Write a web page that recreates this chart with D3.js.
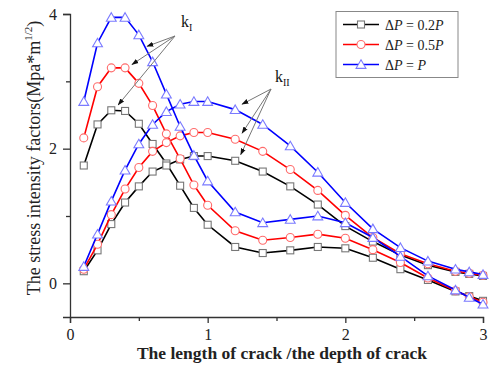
<!DOCTYPE html>
<html>
<head>
<meta charset="utf-8">
<script src="https://cdn.jsdelivr.net/npm/d3@7"></script>
<style>
  body { margin: 0; background: #fff; }
  svg { font-family: "Liberation Serif", "Times New Roman", serif; }
</style>
</head>
<body>
<div id="chart"></div>
<script>
// crack length / depth ratio
const xs = [0.1, 0.2, 0.3, 0.4, 0.5, 0.6, 0.7, 0.8, 0.9, 1.0, 1.2, 1.4, 1.6, 1.8, 2.0, 2.2, 2.4, 2.6, 2.8, 2.9, 3.0];

// kI curves
const kI_02 = [1.75, 2.36, 2.57, 2.56, 2.37, 2.07, 1.78, 1.45, 1.12, 0.87, 0.54, 0.45, 0.49, 0.54, 0.52, 0.38, 0.21, 0.05, -0.12, -0.19, -0.26];
const kI_05 = [2.16, 2.92, 3.20, 3.20, 2.97, 2.64, 2.22, 1.85, 1.46, 1.16, 0.78, 0.64, 0.68, 0.73, 0.67, 0.50, 0.31, 0.08, -0.11, -0.20, -0.28];
const kI_10 = [2.70, 3.57, 3.95, 3.95, 3.69, 3.29, 2.81, 2.33, 1.90, 1.52, 1.06, 0.90, 0.95, 1.00, 0.90, 0.68, 0.40, 0.11, -0.10, -0.21, -0.31];

// kII curves
const kII_02 = [0.18, 0.49, 0.88, 1.20, 1.44, 1.66, 1.75, 1.84, 1.89, 1.89, 1.82, 1.66, 1.44, 1.17, 0.85, 0.62, 0.42, 0.27, 0.17, 0.14, 0.11];
const kII_05 = [0.21, 0.58, 1.02, 1.40, 1.72, 1.96, 2.09, 2.19, 2.24, 2.24, 2.14, 1.96, 1.69, 1.38, 1.01, 0.68, 0.44, 0.29, 0.18, 0.15, 0.12];
const kII_10 = [0.25, 0.73, 1.22, 1.68, 2.07, 2.36, 2.55, 2.66, 2.70, 2.70, 2.58, 2.36, 2.04, 1.65, 1.20, 0.81, 0.53, 0.33, 0.21, 0.17, 0.13];

const xTicks = [0, 1, 2, 3];
const xMinor = [0.5, 1.5, 2.5];
const yTicks = [0, 2, 4];
const yMinor = [1, 3];

const seriesInfo = [
    { key: "0.2P", line: "#000000", mark: "#777777", shape: "square", data: [kI_02, kII_02] },
    { key: "0.5P", line: "#ff0000", mark: "#ff6b6b", shape: "circle", data: [kI_05, kII_05] },
    { key: "P",    line: "#0000ff", mark: "#7a7aff", shape: "triangle", data: [kI_10, kII_10] }
];

const width = 500, height = 367;
const svg = d3.select("#chart").append("svg")
    .attr("width", width)
    .attr("height", height);

const x = d3.scaleLinear().domain([0, 3]).range([70, 483]);
const y = d3.scaleLinear().domain([-0.5, 4]).range([317, 14]);
const axisColor = "#333";

// axes
svg.append("g")
    .attr("transform", `translate(0,${y(-0.5)})`)
    .call(d3.axisBottom(x).tickValues(xTicks).tickSize(6).tickPadding(6).tickFormat(d3.format("d")));
svg.append("g")
    .attr("transform", `translate(0,${y(-0.5)})`)
    .call(d3.axisBottom(x).tickValues(xMinor).tickSize(4).tickFormat(""))
    .call(g => g.select(".domain").remove());

svg.append("g")
    .attr("transform", `translate(${x(0)},0)`)
    .call(d3.axisLeft(y).tickValues(yTicks).tickSize(7).tickPadding(6).tickFormat(d3.format("d")));
svg.append("g")
    .attr("transform", `translate(${x(0)},0)`)
    .call(d3.axisLeft(y).tickValues(yMinor).tickSize(4).tickFormat(""))
    .call(g => g.select(".domain").remove());

svg.selectAll(".domain, .tick line").attr("stroke", axisColor).attr("stroke-width", 1.3);
svg.selectAll(".tick text")
    .attr("font-family", "Liberation Serif")
    .attr("font-size", "16px")
    .attr("fill", "#222");

// curves
const line = d3.line().x(d => x(d[0])).y(d => y(d[1]));
const triangle = d3.symbol().type(d3.symbolTriangle).size(42);

function drawMarker(g, shape, cx, cy, color) {
    if (shape === "square") {
        g.append("rect").attr("x", cx - 3.5).attr("y", cy - 3.5).attr("width", 7).attr("height", 7)
            .attr("fill", "#fff").attr("stroke", color).attr("stroke-width", 1.1);
    } else if (shape === "circle") {
        g.append("circle").attr("cx", cx).attr("cy", cy).attr("r", 4)
            .attr("fill", "#fff").attr("stroke", color).attr("stroke-width", 1.1);
    } else {
        g.append("path").attr("d", triangle()).attr("transform", `translate(${cx},${cy + 1})`)
            .attr("fill", "#fff").attr("stroke", color).attr("stroke-width", 1.1);
    }
}

seriesInfo.forEach(s => {
    s.data.forEach(vals => {
        const pts = xs.map((v, i) => [v, vals[i]]);
        const g = svg.append("g");
        g.append("path").datum(pts)
            .attr("d", line)
            .attr("fill", "none")
            .attr("stroke", s.line)
            .attr("stroke-width", 1.6);
        pts.forEach(p => drawMarker(g, s.shape, x(p[0]), y(p[1]), s.mark));
    });
});

// annotation arrows
svg.append("defs").append("marker")
    .attr("id", "head")
    .attr("viewBox", "0 0 10 10")
    .attr("refX", 9).attr("refY", 5)
    .attr("markerWidth", 7).attr("markerHeight", 7)
    .attr("orient", "auto")
    .append("path").attr("d", "M0,1.5 L10,5 L0,8.5 Z").attr("fill", "#111");

function arrows(from, targets) {
    targets.forEach(t => {
        svg.append("line")
            .attr("x1", from[0]).attr("y1", from[1])
            .attr("x2", x(t[0])).attr("y2", y(t[1]))
            .attr("stroke", "#777").attr("stroke-width", 1)
            .attr("marker-end", "url(#head)");
    });
}
arrows([175, 36], [[0.56, 3.52], [0.45, 3.25], [0.35, 2.65]]);
arrows([271, 89], [[1.25, 2.66], [1.25, 2.23], [1.24, 1.91]]);

function kLabel(px, py, sub) {
    const t = svg.append("text").attr("x", px).attr("y", py)
        .attr("font-size", "16px").attr("fill", "#111");
    t.append("tspan").text("k");
    t.append("tspan").attr("font-size", "10px").attr("dy", 4).text(sub);
}
kLabel(181, 27, "I");
kLabel(275, 82, "II");

// legend
const legend = svg.append("g");
legend.append("rect")
    .attr("x", 336).attr("y", 11.5).attr("width", 122).attr("height", 66)
    .attr("fill", "#fff").attr("stroke", "#888").attr("stroke-width", 1);
seriesInfo.forEach((s, i) => {
    const ly = 24.5 + i * 20;
    legend.append("line").attr("x1", 343).attr("x2", 379).attr("y1", ly).attr("y2", ly)
        .attr("stroke", s.line).attr("stroke-width", 1.6);
    drawMarker(legend, s.shape, 361, ly, s.mark);
    const t = legend.append("text").attr("x", 385).attr("y", ly + 5)
        .attr("font-size", "14px").attr("fill", "#222");
    t.append("tspan").text("\u0394");
    t.append("tspan").attr("font-style", "italic").text("P");
    if (s.key === "P") {
        t.append("tspan").text(" = ");
        t.append("tspan").attr("font-style", "italic").text("P");
    } else {
        t.append("tspan").text(" = " + s.key.replace("P", ""));
        t.append("tspan").attr("font-style", "italic").text("P");
    }
});

// axis titles
svg.append("text")
    .attr("x", 282).attr("y", 359)
    .attr("text-anchor", "middle")
    .attr("font-size", "17.5px").attr("font-weight", "bold").attr("fill", "#222")
    .text("The length of crack /the depth of crack");

const yt = svg.append("text")
    .attr("transform", "translate(40,158) rotate(-90)")
    .attr("text-anchor", "middle")
    .attr("font-size", "18px").attr("fill", "#222");
yt.append("tspan").text("The stress intensity factors(Mpa*m");
yt.append("tspan").attr("font-size", "11px").attr("dy", -8).text("1/2");
yt.append("tspan").attr("dy", 8).text(")");
</script>
</body>
</html>
